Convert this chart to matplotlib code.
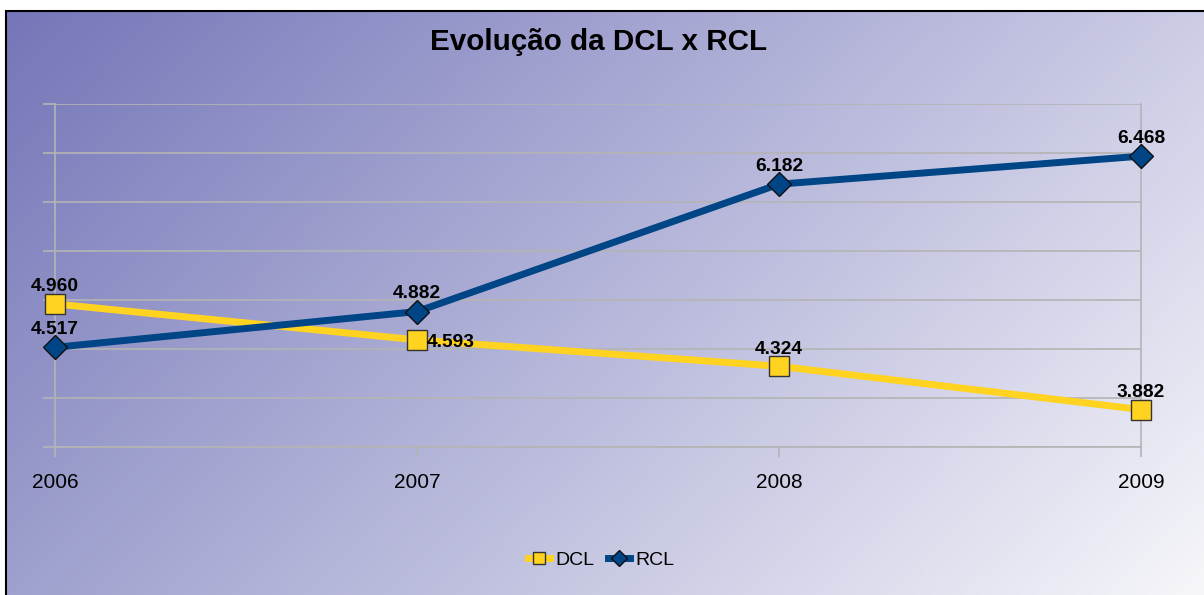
import matplotlib.pyplot as plt
import numpy as np
from matplotlib.lines import Line2D
from matplotlib.patches import Rectangle

plt.rcParams['font.family'] = ['Liberation Sans', 'DejaVu Sans']

years = ['2006', '2007', '2008', '2009']
dcl = [4960, 4593, 4324, 3882]
rcl = [4517, 4882, 6182, 6468]

W, H = 1204, 595
fig = plt.figure(figsize=(W / 100, H / 100), dpi=100)

# diagonal gradient background (corner colours)
tl = np.array([116, 118, 184]) / 255
tr = np.array([204, 204, 230]) / 255
bl = np.array([158, 160, 206]) / 255
br = np.array([246, 246, 250]) / 255
gx = np.linspace(0, 1, 300)[None, :, None]
gy = np.linspace(0, 1, 150)[:, None, None]
grad = (tl * (1 - gx) * (1 - gy) + tr * gx * (1 - gy)
        + bl * (1 - gx) * gy + br * gx * gy)
bg = fig.add_axes([6 / W, 0, 1 - 6 / W, 1 - 11 / H])
bg.imshow(grad, aspect='auto', extent=[0, 1, 0, 1], origin='upper')
bg.set_axis_off()
fig.patches.append(Rectangle((6 / W, -0.1), 1.2, 1 - 11 / H + 0.1,
                             transform=fig.transFigure, fill=False,
                             edgecolor='black', linewidth=1.5))

ax = fig.add_axes([55 / W, 1 - 447 / H, (1141 - 55) / W, (447 - 104) / H])
ax.set_facecolor('none')
x = np.arange(len(years))

grid_col = '#b4b4b4'
ax.plot(x, dcl, color='#ffd320', lw=5, marker='s', markersize=14,
        markerfacecolor='#ffd320', markeredgecolor='#333333', markeredgewidth=1,
        zorder=3, solid_capstyle='butt', clip_on=False)
ax.plot(x, rcl, color='#004586', lw=5, marker='D', markersize=12,
        markerfacecolor='#004586', markeredgecolor='#111111', markeredgewidth=1,
        zorder=4, solid_capstyle='butt', clip_on=False)

def fmt(v):
    return f"{v:,}".replace(',', '.')

lab = dict(fontsize=13.8, fontweight='bold', zorder=5, textcoords='offset points')
for i, v in enumerate(dcl):
    if i == 1:
        ax.annotate(fmt(v), (i, v), xytext=(7, -5), ha='left', va='baseline', **lab)
    else:
        ax.annotate(fmt(v), (i, v), xytext=(0, 9), ha='center', va='baseline', **lab)
for i, v in enumerate(rcl):
    ax.annotate(fmt(v), (i, v), xytext=(0, 9.5), ha='center', va='baseline', **lab)

ax.set_xlim(0, 3)
ax.set_ylim(3500, 7000)
ax.set_xticks(x)
ax.set_xticklabels(years, fontsize=15)
ax.set_yticks(np.arange(3500, 7001, 500))
ax.set_yticklabels([])
ax.yaxis.grid(True, color=grid_col, linewidth=1.2)
ax.set_axisbelow(True)
ax.tick_params(axis='y', direction='out', length=8.5, color=grid_col, width=1.2)
ax.tick_params(axis='x', direction='out', length=7, color=grid_col, width=1.2, pad=11.5)
ax.spines['top'].set_visible(False)
for s in ['left', 'right', 'bottom']:
    ax.spines[s].set_color(grid_col)
    ax.spines[s].set_linewidth(1.2)

fig.text(0.497, 1 - 42 / H, 'Evolução da DCL x RCL', ha='center', va='center',
         fontsize=21.3, fontweight='bold')

handles = [
    Line2D([], [], color='#ffd320', lw=5, marker='s', markersize=9,
           markerfacecolor='#ffd320', markeredgecolor='#333333', markeredgewidth=1),
    Line2D([], [], color='#004586', lw=5, marker='D', markersize=8,
           markerfacecolor='#004586', markeredgecolor='#111111', markeredgewidth=1),
]
fig.legend(handles, ['DCL', 'RCL'], loc='center', bbox_to_anchor=(601.5 / W, 1 - 560 / H),
           ncol=2, frameon=False, fontsize=14, handlelength=1.1,
           handletextpad=0.3, columnspacing=0.7)

fig.savefig('out.png', dpi=100)
